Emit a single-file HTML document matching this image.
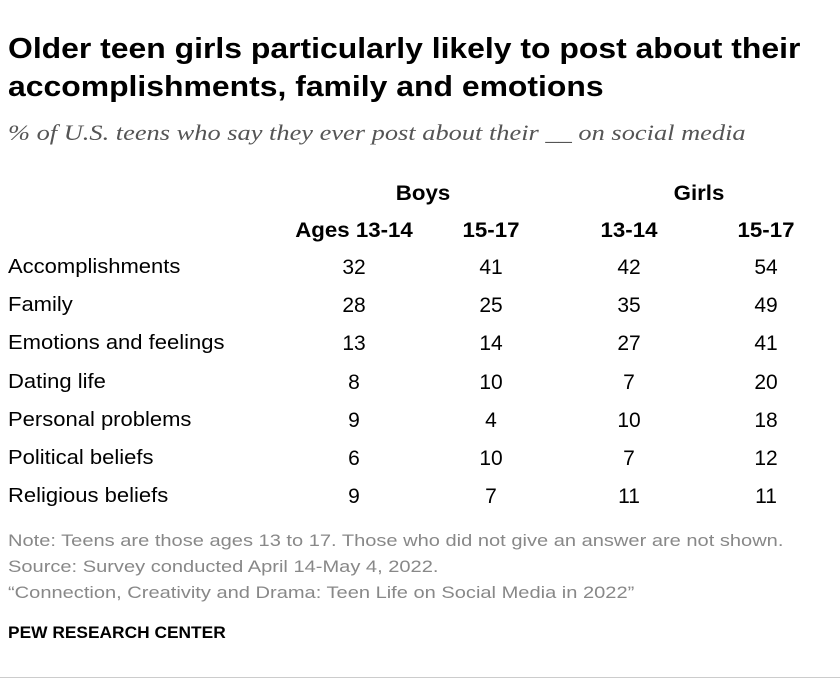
<!DOCTYPE html>
<html><head><meta charset="utf-8"><style>
body{margin:0;width:840px;height:686px;background:#fff;font-family:"Liberation Sans",sans-serif;color:#000;position:relative;overflow:hidden}
.a{position:absolute;white-space:nowrap}
.t{left:8px;top:30px;font-size:29px;font-weight:bold;line-height:38px;transform-origin:left top;transform:scaleX(1.1)}
.s{left:8px;top:120px;font-family:"Liberation Serif",serif;font-style:italic;font-size:22px;color:#555;transform-origin:left top;transform:scaleX(1.2)}
.h{font-weight:bold;font-size:21px;transform:translateX(-50%) scaleX(1.06)}
.c{font-size:21px;transform:translateX(-50%)}
.l{left:8px;font-size:20px;transform-origin:left top;transform:scaleX(1.1)}
.n{left:8px;font-size:17px;color:#888;transform-origin:left top;transform:scaleX(1.18)}
</style></head><body>
<div class="a t">Older teen girls particularly likely to post about their<br>accomplishments, family and emotions</div>
<div class="a s">% of U.S. teens who say they ever post about their __ on social media</div>
<div class="a h" style="left:423px;top:182px">Boys</div>
<div class="a h" style="left:699px;top:182px">Girls</div>
<div id="tbl"></div>
<div class="a n" style="top:531px">Note: Teens are those ages 13 to 17. Those who did not give an answer are not shown.</div>
<div class="a n" style="top:557px">Source: Survey conducted April 14-May 4, 2022.</div>
<div class="a n" style="top:583px">“Connection, Creativity and Drama: Teen Life on Social Media in 2022”</div>
<div class="a" style="left:8px;top:623px;font-size:17px;font-weight:bold;transform-origin:left;transform:scaleX(1.02)">PEW RESEARCH CENTER</div>
<div class="a" style="left:0;top:677px;width:840px;height:1px;background:#ccc"></div>
<script>
const columns=["Ages 13-14","15-17","13-14","15-17"];
const categories=["Accomplishments","Family","Emotions and feelings","Dating life","Personal problems","Political beliefs","Religious beliefs"];
const boys1314=[32,28,13,8,9,6,9];
const boys1517=[41,25,14,10,4,10,7];
const girls1314=[42,35,27,7,10,7,11];
const girls1517=[54,49,41,20,18,12,11];
const series=[boys1314,boys1517,girls1314,girls1517];
const colX=[354,491,629,766];
const b=document.body;
columns.forEach((c,i)=>{
 const d=document.createElement('div');d.className='a h';d.style.left=colX[i]+'px';d.style.top='219px';d.textContent=c;
 
 
 b.appendChild(d);
});
categories.forEach((cat,r)=>{
 const y=256+r*38.2;
 const d=document.createElement('div');d.className='a l';d.style.top=y+'px';d.textContent=cat;
 
 
 b.appendChild(d);
 series.forEach((s,i)=>{
  const v=document.createElement('div');v.className='a c';v.style.left=colX[i]+'px';v.style.top=y+'px';v.textContent=s[r];
  
  
  b.appendChild(v);
 });
});
</script>
</body></html>
